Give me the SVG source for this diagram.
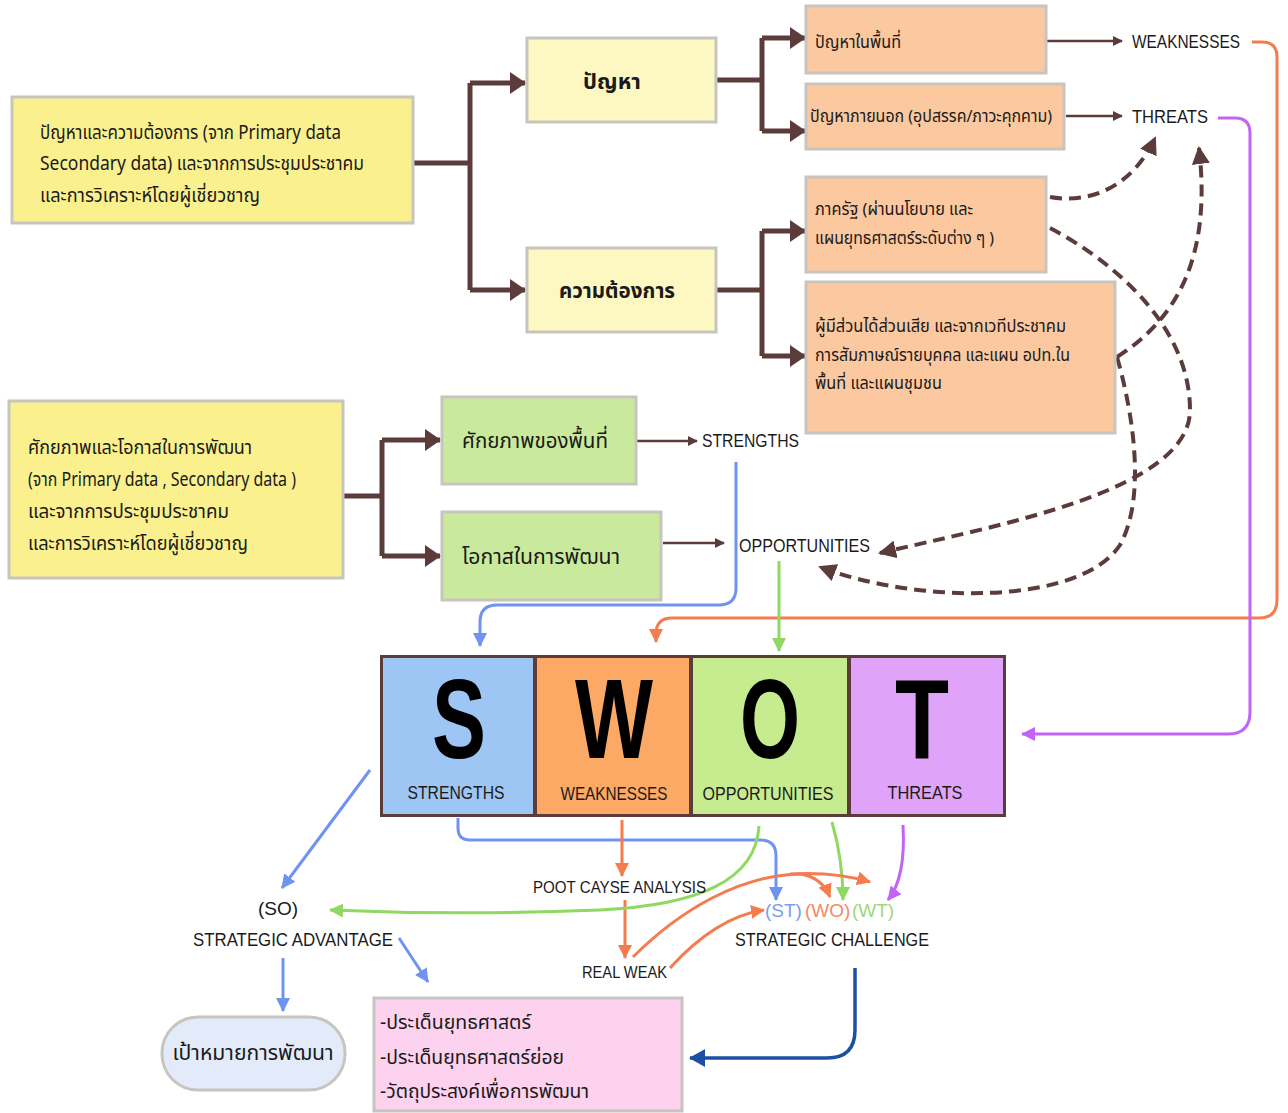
<svg xmlns="http://www.w3.org/2000/svg" width="1288" height="1113" viewBox="0 0 1288 1113">
<style>
.th{font-family:"Noto Sans Thai","Noto Sans","DejaVu Sans",sans-serif;fill:#1a1a1a}
.en{font-family:"Liberation Sans","Noto Sans",sans-serif;fill:#1a1a1a}
.big{font-family:"Liberation Sans","Open Sans",sans-serif;font-weight:bold;font-size:114px;fill:#000;text-anchor:middle}
.box{stroke:#c8c4be;stroke-width:3}
.y1{fill:#faf08e}
.y2{fill:#fdf7c2}
.pe{fill:#fcc8a0}
.gr{fill:#c9ea9c}
.bt{fill:none;stroke:#5c3b3b;stroke-width:5}
.bthin{fill:none;stroke:#5c3b3b;stroke-width:2.5}
.dash{fill:none;stroke:#5c3b3b;stroke-width:4;stroke-dasharray:12 7}
.cb{fill:none;stroke:#6f94f0;stroke-width:3}
.co{fill:none;stroke:#f47c4e;stroke-width:3}
.cg{fill:none;stroke:#8fd862;stroke-width:3}
.cp{fill:none;stroke:#c264f5;stroke-width:3}
.cd{fill:none;stroke:#1c50a4;stroke-width:3.5}
</style>
<defs>
<marker id="ab" markerUnits="userSpaceOnUse" viewBox="0 0 16 22" markerWidth="16" markerHeight="22" refX="15" refY="11" orient="auto"><path d="M0,0 L16,11 L0,22 z" fill="#5c3b3b"/></marker>
<marker id="as" markerUnits="userSpaceOnUse" viewBox="0 0 10 10" markerWidth="10" markerHeight="10" refX="9" refY="5" orient="auto"><path d="M0,0 L10,5 L0,10 z" fill="#5c3b3b"/></marker>
<marker id="ad" markerUnits="userSpaceOnUse" viewBox="0 0 18 18" markerWidth="18" markerHeight="18" refX="16" refY="9" orient="auto"><path d="M0,0 L18,9 L0,18 z" fill="#5c3b3b"/></marker>
<marker id="mb" markerUnits="userSpaceOnUse" viewBox="0 0 14 14" markerWidth="14" markerHeight="14" refX="13" refY="7" orient="auto"><path d="M0,0 L14,7 L0,14 z" fill="#6f94f0"/></marker>
<marker id="mo" markerUnits="userSpaceOnUse" viewBox="0 0 14 14" markerWidth="14" markerHeight="14" refX="13" refY="7" orient="auto"><path d="M0,0 L14,7 L0,14 z" fill="#f47c4e"/></marker>
<marker id="mg" markerUnits="userSpaceOnUse" viewBox="0 0 14 14" markerWidth="14" markerHeight="14" refX="13" refY="7" orient="auto"><path d="M0,0 L14,7 L0,14 z" fill="#8fd862"/></marker>
<marker id="mp" markerUnits="userSpaceOnUse" viewBox="0 0 14 14" markerWidth="14" markerHeight="14" refX="13" refY="7" orient="auto"><path d="M0,0 L14,7 L0,14 z" fill="#c264f5"/></marker>
<marker id="md" markerUnits="userSpaceOnUse" viewBox="0 0 16 18" markerWidth="16" markerHeight="18" refX="15" refY="9" orient="auto"><path d="M0,0 L16,9 L0,18 z" fill="#1c50a4"/></marker>
</defs>
<rect width="1288" height="1113" fill="#ffffff"/>

<g id="connectors">
<path class="bt" d="M413,163 H470 M470,83 V290" />
<path class="bt" d="M470,83 H525" marker-end="url(#ab)"/>
<path class="bt" d="M470,290 H525" marker-end="url(#ab)"/>
<path class="bt" d="M716,80 H762 M762,38 V131"/>
<path class="bt" d="M762,38 H805" marker-end="url(#ab)"/>
<path class="bt" d="M762,131 H805" marker-end="url(#ab)"/>
<path class="bt" d="M716,290 H762 M762,231 V356"/>
<path class="bt" d="M762,231 H805" marker-end="url(#ab)"/>
<path class="bt" d="M762,356 H805" marker-end="url(#ab)"/>
<path class="bt" d="M343,496 H382 M382,440 V556"/>
<path class="bt" d="M382,440 H440" marker-end="url(#ab)"/>
<path class="bt" d="M382,556 H440" marker-end="url(#ab)"/>
<path class="bthin" d="M1046,41 H1122" marker-end="url(#as)"/>
<path class="bthin" d="M1066,116 H1122" marker-end="url(#as)"/>
<path class="bthin" d="M636,441 H697" marker-end="url(#as)"/>
<path class="bthin" d="M663,543 H724" marker-end="url(#as)"/>

<path class="dash" d="M1050,197 C1095,205 1135,182 1155,138" marker-end="url(#ad)"/>
<path class="dash" d="M1050,228 C1120,265 1190,330 1190,410 C1190,490 1000,525 880,553" marker-end="url(#ad)"/>
<path class="dash" d="M1117,357 C1175,320 1212,260 1199,148" marker-end="url(#ad)"/>
<path class="dash" d="M1117,357 C1135,420 1145,500 1120,545 C1080,605 920,605 820,567" marker-end="url(#ad)"/>

<path class="co" d="M1252,42 H1262 Q1277,42 1277,57 V600 Q1277,618 1259,618 H672 Q656,618 656,634 V642" marker-end="url(#mo)"/>
<path class="cp" d="M1218,118 H1235 Q1250,118 1250,133 V712 Q1250,734 1228,734 H1022" marker-end="url(#mp)"/>
<path class="cb" d="M736,462 V588 Q736,605 719,605 H497 Q480,605 480,622 V646" marker-end="url(#mb)"/>
<path class="cg" d="M779,561 V651" marker-end="url(#mg)"/>

<path class="cb" d="M370,770 L282,888" marker-end="url(#mb)"/>
<path class="cb" d="M283,958 V1011" marker-end="url(#mb)"/>
<path class="cb" d="M399,938 L428,982" marker-end="url(#mb)"/>
<path class="cd" d="M855,968 V1030 Q855,1058 827,1058 H690" marker-end="url(#md)"/>
<path class="cb" d="M458,818 V828 Q458,840 470,840 H760 Q776,840 776,856 V900" marker-end="url(#mb)"/>
<path class="co" d="M622,820 V876" marker-end="url(#mo)"/>
<path class="co" d="M625,900 V958" marker-end="url(#mo)"/>
<path class="cg" d="M759,826 C756,880 700,905 600,910 C480,915 400,913 330,910" marker-end="url(#mg)"/>
<path class="cg" d="M832,822 C840,850 843,875 843,900" marker-end="url(#mg)"/>
<path class="cp" d="M903,825 C905,860 900,885 888,900" marker-end="url(#mp)"/>
<path class="co" d="M633,957 C680,910 740,875 800,874 C815,876 825,885 830,897" marker-end="url(#mo)"/>
<path class="co" d="M790,874 C825,872 850,876 870,882" marker-end="url(#mo)"/>
<path class="co" d="M670,968 C700,935 730,915 764,910" marker-end="url(#mo)"/>
</g>

<g id="n-source1"><rect class="box y1" x="12" y="97" width="401" height="126"/>
<text class="th" font-size="19" x="40" y="139" textLength="301" lengthAdjust="spacingAndGlyphs">ปัญหาและความต้องการ (จาก Primary data</text>
<text class="th" font-size="19" x="40" y="170" textLength="324" lengthAdjust="spacingAndGlyphs">Secondary data) และจากการประชุมประชาคม</text>
<text class="th" font-size="19" x="40" y="202" textLength="220" lengthAdjust="spacingAndGlyphs">และการวิเคราะห์โดยผู้เชี่ยวชาญ</text></g>

<g id="n-problem"><rect class="box y2" x="527" y="38" width="189" height="84"/>
<text class="th" font-size="22" font-weight="bold" x="612" y="89" text-anchor="middle">ปัญหา</text></g>

<g id="n-need"><rect class="box y2" x="527" y="248" width="189" height="84"/>
<text class="th" font-size="22" font-weight="bold" x="617" y="298" text-anchor="middle" textLength="116" lengthAdjust="spacingAndGlyphs">ความต้องการ</text></g>

<g id="n-p-inside"><rect class="box pe" x="806" y="6" width="240" height="67"/>
<text class="th" font-size="18" x="815" y="48" textLength="86" lengthAdjust="spacingAndGlyphs">ปัญหาในพื้นที่</text></g>

<g id="n-p-outside"><rect class="box pe" x="806" y="84" width="258" height="65"/>
<text class="th" font-size="17" x="810" y="122" textLength="242" lengthAdjust="spacingAndGlyphs">ปัญหาภายนอก (อุปสรรค/ภาวะคุกคาม)</text></g>

<g id="n-gov"><rect class="box pe" x="806" y="177" width="240" height="95"/>
<text class="th" font-size="17" x="815" y="215" textLength="158" lengthAdjust="spacingAndGlyphs">ภาครัฐ (ผ่านนโยบาย และ</text>
<text class="th" font-size="17" x="815" y="244" textLength="179" lengthAdjust="spacingAndGlyphs">แผนยุทธศาสตร์ระดับต่าง ๆ )</text></g>

<g id="n-stake"><rect class="box pe" x="806" y="282" width="309" height="151"/>
<text class="th" font-size="17" x="815" y="332" textLength="251" lengthAdjust="spacingAndGlyphs">ผู้มีส่วนได้ส่วนเสีย และจากเวทีประชาคม</text>
<text class="th" font-size="17" x="815" y="361" textLength="255" lengthAdjust="spacingAndGlyphs">การสัมภาษณ์รายบุคคล และแผน อปท.ใน</text>
<text class="th" font-size="17" x="815" y="389" textLength="127" lengthAdjust="spacingAndGlyphs">พื้นที่ และแผนชุมชน</text></g>

<g id="n-source2"><rect class="box y1" x="9" y="401" width="334" height="177"/>
<text class="th" font-size="19" x="28" y="454" textLength="224" lengthAdjust="spacingAndGlyphs">ศักยภาพและโอกาสในการพัฒนา</text>
<text class="th" font-size="19" x="28" y="486" textLength="268" lengthAdjust="spacingAndGlyphs">(จาก Primary data , Secondary data )</text>
<text class="th" font-size="19" x="28" y="518" textLength="201" lengthAdjust="spacingAndGlyphs">และจากการประชุมประชาคม</text>
<text class="th" font-size="19" x="28" y="550" textLength="220" lengthAdjust="spacingAndGlyphs">และการวิเคราะห์โดยผู้เชี่ยวชาญ</text></g>

<g id="n-potential"><rect class="box gr" x="442" y="397" width="194" height="87"/>
<text class="th" font-size="22" x="462" y="448" textLength="146" lengthAdjust="spacingAndGlyphs">ศักยภาพของพื้นที่</text></g>

<g id="n-opportunity"><rect class="box gr" x="442" y="512" width="219" height="88"/>
<text class="th" font-size="22" x="462" y="564" textLength="158" lengthAdjust="spacingAndGlyphs">โอกาสในการพัฒนา</text></g>

<g id="l-weak"><text class="en" font-size="19" x="1132" y="48" textLength="108" lengthAdjust="spacingAndGlyphs">WEAKNESSES</text></g>
<g id="l-threat"><text class="en" font-size="19" x="1132" y="123" textLength="76" lengthAdjust="spacingAndGlyphs">THREATS</text></g>
<g id="l-strength"><text class="en" font-size="19" x="702" y="447" textLength="97" lengthAdjust="spacingAndGlyphs">STRENGTHS</text></g>
<g id="l-opp"><text class="en" font-size="19" x="739" y="552" textLength="131" lengthAdjust="spacingAndGlyphs">OPPORTUNITIES</text></g>

<g id="n-swot">
<rect x="380" y="655" width="626" height="162" fill="#5c3b3b"/>
<rect x="383" y="658" width="150" height="156" fill="#9ec6f4"/>
<rect x="537" y="658" width="152" height="156" fill="#fca966"/>
<rect x="693" y="658" width="154" height="156" fill="#c7ec8f"/>
<rect x="851" y="658" width="152" height="156" fill="#dfa4f9"/>
<text class="big" x="459" y="758" textLength="54" lengthAdjust="spacingAndGlyphs">S</text>
<text class="big" x="614" y="758" textLength="78" lengthAdjust="spacingAndGlyphs">W</text>
<text class="big" x="770" y="758" textLength="60" lengthAdjust="spacingAndGlyphs">O</text>
<text class="big" x="922" y="758" textLength="54" lengthAdjust="spacingAndGlyphs">T</text>
<text class="en" font-size="19" x="456" y="799" text-anchor="middle" textLength="97" lengthAdjust="spacingAndGlyphs">STRENGTHS</text>
<text class="en" font-size="19" x="614" y="800" text-anchor="middle" textLength="107" lengthAdjust="spacingAndGlyphs">WEAKNESSES</text>
<text class="en" font-size="19" x="768" y="800" text-anchor="middle" textLength="131" lengthAdjust="spacingAndGlyphs">OPPORTUNITIES</text>
<text class="en" font-size="19" x="925" y="799" text-anchor="middle" textLength="75" lengthAdjust="spacingAndGlyphs">THREATS</text>
</g>

<g id="l-so"><text class="en" font-size="19" x="278" y="915" text-anchor="middle">(SO)</text>
<text class="en" font-size="19" x="193" y="946" textLength="200" lengthAdjust="spacingAndGlyphs">STRATEGIC ADVANTAGE</text></g>
<g id="l-root"><text class="en" font-size="17" x="533" y="893" textLength="173" lengthAdjust="spacingAndGlyphs">POOT CAYSE ANALYSIS</text></g>
<g id="l-realweak"><text class="en" font-size="17" x="582" y="978" textLength="85" lengthAdjust="spacingAndGlyphs">REAL WEAK</text></g>
<g id="l-challenge">
<text font-size="19" class="en" y="917"><tspan x="765" fill="#7a9cf2">(ST)</tspan><tspan x="805" fill="#f38a68">(WO)</tspan><tspan x="852" fill="#9fd67a">(WT)</tspan></text>
<text class="en" font-size="19" x="735" y="946" textLength="194" lengthAdjust="spacingAndGlyphs">STRATEGIC CHALLENGE</text></g>

<g id="n-goal"><rect x="162" y="1017" width="183" height="73" rx="36" fill="#e3ebfa" stroke="#c8c4be" stroke-width="3"/>
<text class="th" font-size="22" x="253" y="1060" text-anchor="middle" textLength="161" lengthAdjust="spacingAndGlyphs">เป้าหมายการพัฒนา</text></g>

<g id="n-issues"><rect class="box" x="374" y="998" width="308" height="113" fill="#fcd2ee"/>
<text class="th" font-size="20" x="380" y="1029" textLength="151" lengthAdjust="spacingAndGlyphs">-ประเด็นยุทธศาสตร์</text>
<text class="th" font-size="20" x="380" y="1064" textLength="184" lengthAdjust="spacingAndGlyphs">-ประเด็นยุทธศาสตร์ย่อย</text>
<text class="th" font-size="20" x="380" y="1098" textLength="209" lengthAdjust="spacingAndGlyphs">-วัตถุประสงค์เพื่อการพัฒนา</text></g>
</svg>
